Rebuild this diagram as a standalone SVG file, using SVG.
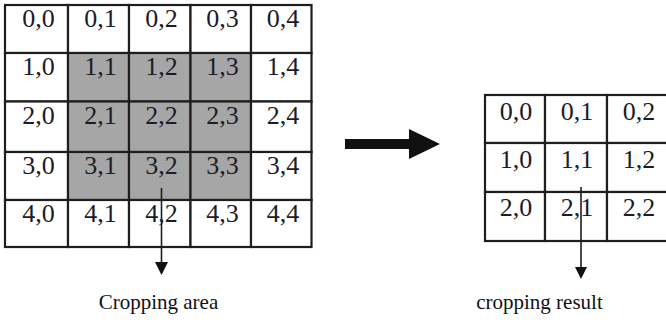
<svg xmlns="http://www.w3.org/2000/svg" width="666" height="322" viewBox="0 0 666 322">
  <defs>
    <style>
      .cell { fill: #ffffff; stroke: #1e1e1e; stroke-width: 2.2; }
      .cell.sel { fill: #a6a6a6; }
      .num { font-family: "Liberation Serif", "Times New Roman", serif; font-size: 26px; fill: #1c1c28; text-anchor: middle; }
      .label { font-family: "Liberation Serif", "Times New Roman", serif; font-size: 21px; fill: #111111; text-anchor: middle; }
      .pointer { stroke: #1e1e1e; stroke-width: 1.6; fill: none; }
      .head { fill: #111111; }
    </style>
  </defs>
  <rect width="666" height="322" fill="#ffffff"/>

  <!-- 5x5 source matrix; the inner 3x3 block is shaded -->
  <g id="source-grid">
    <g id="s00"><rect class="cell" x="5" y="5" width="63" height="48"/><text class="num" x="38.5" y="27">0,0</text></g>
    <g id="s01"><rect class="cell" x="68" y="5" width="61" height="48"/><text class="num" x="100.5" y="27">0,1</text></g>
    <g id="s02"><rect class="cell" x="129" y="5" width="61.5" height="48"/><text class="num" x="161.5" y="27">0,2</text></g>
    <g id="s03"><rect class="cell" x="190.5" y="5" width="60.5" height="48"/><text class="num" x="222.5" y="27">0,3</text></g>
    <g id="s04"><rect class="cell" x="251" y="5" width="60.5" height="48"/><text class="num" x="283" y="27">0,4</text></g>

    <g id="s10"><rect class="cell" x="5" y="53" width="63" height="48.5"/><text class="num" x="38.5" y="75">1,0</text></g>
    <g id="s11"><rect class="cell sel" x="68" y="53" width="61" height="48.5"/><text class="num" x="100.5" y="75">1,1</text></g>
    <g id="s12"><rect class="cell sel" x="129" y="53" width="61.5" height="48.5"/><text class="num" x="161.5" y="75">1,2</text></g>
    <g id="s13"><rect class="cell sel" x="190.5" y="53" width="60.5" height="48.5"/><text class="num" x="222.5" y="75">1,3</text></g>
    <g id="s14"><rect class="cell" x="251" y="53" width="60.5" height="48.5"/><text class="num" x="283" y="75">1,4</text></g>

    <g id="s20"><rect class="cell" x="5" y="101.5" width="63" height="50.5"/><text class="num" x="38.5" y="124">2,0</text></g>
    <g id="s21"><rect class="cell sel" x="68" y="101.5" width="61" height="50.5"/><text class="num" x="100.5" y="124">2,1</text></g>
    <g id="s22"><rect class="cell sel" x="129" y="101.5" width="61.5" height="50.5"/><text class="num" x="161.5" y="124">2,2</text></g>
    <g id="s23"><rect class="cell sel" x="190.5" y="101.5" width="60.5" height="50.5"/><text class="num" x="222.5" y="124">2,3</text></g>
    <g id="s24"><rect class="cell" x="251" y="101.5" width="60.5" height="50.5"/><text class="num" x="283" y="124">2,4</text></g>

    <g id="s30"><rect class="cell" x="5" y="152" width="63" height="48"/><text class="num" x="38.5" y="174">3,0</text></g>
    <g id="s31"><rect class="cell sel" x="68" y="152" width="61" height="48"/><text class="num" x="100.5" y="174">3,1</text></g>
    <g id="s32"><rect class="cell sel" x="129" y="152" width="61.5" height="48"/><text class="num" x="161.5" y="174">3,2</text></g>
    <g id="s33"><rect class="cell sel" x="190.5" y="152" width="60.5" height="48"/><text class="num" x="222.5" y="174">3,3</text></g>
    <g id="s34"><rect class="cell" x="251" y="152" width="60.5" height="48"/><text class="num" x="283" y="174">3,4</text></g>

    <g id="s40"><rect class="cell" x="5" y="200" width="63" height="47"/><text class="num" x="38.5" y="222">4,0</text></g>
    <g id="s41"><rect class="cell" x="68" y="200" width="61" height="47"/><text class="num" x="100.5" y="222">4,1</text></g>
    <g id="s42"><rect class="cell" x="129" y="200" width="61.5" height="47"/><text class="num" x="161.5" y="222">4,2</text></g>
    <g id="s43"><rect class="cell" x="190.5" y="200" width="60.5" height="47"/><text class="num" x="222.5" y="222">4,3</text></g>
    <g id="s44"><rect class="cell" x="251" y="200" width="60.5" height="47"/><text class="num" x="283" y="222">4,4</text></g>
  </g>

  <!-- 3x3 result matrix, running off the right edge -->
  <g id="result-grid">
    <g id="r00"><rect class="cell" x="485" y="95" width="60" height="48"/><text class="num" x="516" y="120">0,0</text></g>
    <g id="r01"><rect class="cell" x="545" y="95" width="62" height="48"/><text class="num" x="577" y="120">0,1</text></g>
    <g id="r02"><rect class="cell" x="607" y="95" width="62" height="48"/><text class="num" x="639" y="120">0,2</text></g>

    <g id="r10"><rect class="cell" x="485" y="143" width="60" height="49"/><text class="num" x="516" y="168">1,0</text></g>
    <g id="r11"><rect class="cell" x="545" y="143" width="62" height="49"/><text class="num" x="577" y="168">1,1</text></g>
    <g id="r12"><rect class="cell" x="607" y="143" width="62" height="49"/><text class="num" x="639" y="168">1,2</text></g>

    <g id="r20"><rect class="cell" x="485" y="192" width="60" height="49"/><text class="num" x="516" y="216">2,0</text></g>
    <g id="r21"><rect class="cell" x="545" y="192" width="62" height="49"/><text class="num" x="577" y="216">2,1</text></g>
    <g id="r22"><rect class="cell" x="607" y="192" width="62" height="49"/><text class="num" x="639" y="216">2,2</text></g>
  </g>

  <!-- arrows -->
  <g id="connectors">
    <!-- transformation arrow between the matrices -->
    <polygon class="head" points="345,139 409,139 409,129 440,144 409,159 409,149 345,149"/>
    <!-- label pointers -->
    <line class="pointer" x1="161.5" y1="188" x2="161.5" y2="263"/>
    <polygon class="head" points="155,262 168,262 161.5,275"/>
    <line class="pointer" x1="581" y1="187" x2="581" y2="268"/>
    <polygon class="head" points="575,267 587,267 581,279"/>
  </g>

  <g id="labels">
    <text class="label" x="158.5" y="309">Cropping area</text>
    <text class="label" x="539.5" y="309">cropping result</text>
  </g>
</svg>
